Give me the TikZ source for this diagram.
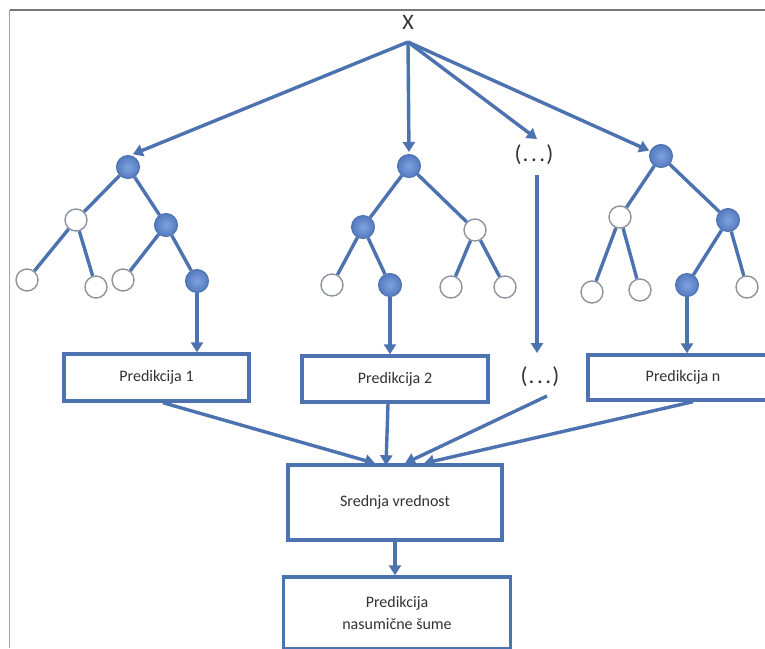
\documentclass[tikz,border=0pt]{standalone}
\usepackage{fontspec}
\setmainfont{Carlito}
\usetikzlibrary{arrows.meta}
\definecolor{lineblue}{RGB}{76,114,176}
\definecolor{fillin}{RGB}{128,163,222}
\definecolor{fillout}{RGB}{84,122,192}
\definecolor{circgray}{RGB}{140,148,160}
\definecolor{framegray}{RGB}{120,120,120}
\definecolor{txt}{RGB}{50,50,50}
\begin{document}
\begin{tikzpicture}[x=1pt,y=-1pt,
  fnode/.style={circle, minimum size=23pt, inner sep=0pt, inner color=fillin, outer color=fillout, draw=lineblue, line width=1pt},
  wnode/.style={circle, minimum size=22pt, inner sep=0pt, fill=white, draw=circgray, line width=1.4pt},
  treeedge/.style={draw=lineblue, line width=3.4pt},
  arr/.style={draw=lineblue, line width=3.4pt, -{Triangle[length=10pt,width=12pt]}},
  predbox/.style={draw=lineblue, line width=3.4pt, fill=white, inner sep=0pt, text=txt, font=\fontsize{16}{20}\selectfont, align=center},
  dotstext/.style={text=txt, font=\fontsize{23}{26}\selectfont, inner sep=0pt}
]
\useasboundingbox (0,0) rectangle (765,648);
\clip (0,0) rectangle (765,648);
\fill[white] (0,0) rectangle (765,648);
% frame
\draw[framegray!70, line width=1.5pt] (9.5,648) -- (9.5,10);
\draw[framegray, line width=1.8pt] (9.5,10) -- (765,10);

% input
\node[text=txt, font=\fontsize{22}{24}\selectfont, inner sep=0pt] (x) at (408,22) {X};
\coordinate (xs) at (408,42);

% tree 1
\node[fnode] (t1r) at (128,167) {};
\node[wnode] (t1a) at (76,220) {};
\node[fnode] (t1b) at (166,225) {};
\node[wnode] (t1aa) at (27,280) {};
\node[wnode] (t1ab) at (96,287) {};
\node[wnode] (t1ba) at (123,280) {};
\node[fnode] (t1bb) at (197,281) {};
\draw[treeedge] (t1r) -- (t1a) (t1r) -- (t1b) (t1a) -- (t1aa) (t1a) -- (t1ab) (t1b) -- (t1ba) (t1b) -- (t1bb);

% tree 2
\node[fnode] (t2r) at (409,166) {};
\node[fnode] (t2a) at (363,227) {};
\node[wnode] (t2b) at (475,230) {};
\node[wnode] (t2aa) at (332,285) {};
\node[fnode] (t2ab) at (390,285) {};
\node[wnode] (t2ba) at (451,287) {};
\node[wnode] (t2bb) at (505,287) {};
\draw[treeedge] (t2r) -- (t2a) (t2r) -- (t2b) (t2a) -- (t2aa) (t2a) -- (t2ab) (t2b) -- (t2ba) (t2b) -- (t2bb);

% tree n
\node[fnode] (tnr) at (661,156) {};
\node[wnode] (tna) at (620,217) {};
\node[fnode] (tnb) at (728,220) {};
\node[wnode] (tnaa) at (592,292) {};
\node[wnode] (tnab) at (640,290) {};
\node[fnode] (tnba) at (687,285) {};
\node[wnode] (tnbb) at (747,287) {};
\draw[treeedge] (tnr) -- (tna) (tnr) -- (tnb) (tna) -- (tnaa) (tna) -- (tnab) (tnb) -- (tnba) (tnb) -- (tnbb);

% dots
\node[dotstext] (d1) at (534,155) {(\kern1pt.\kern2.6pt.\kern2.6pt.\kern1pt)};
\node[dotstext] (d2) at (540,377) {(\kern1pt.\kern2.6pt.\kern2.6pt.\kern1pt)};
\coordinate (d1t) at (537,139);
\coordinate (d1b) at (537,175);
\coordinate (d2t) at (537,353);
\coordinate (d2b) at (547,396);

% boxes
\node[predbox, minimum width=185pt, minimum height=47pt] (p1) at (156.5,377.5) {Predikcija 1};
\node[predbox, minimum width=186pt, minimum height=46pt] (p2) at (395,379) {Predikcija 2};
\node[predbox, minimum width=190pt, minimum height=45pt] (pn) at (683,377.5) {Predikcija n};
\node[predbox, minimum width=214pt, minimum height=75pt] (sv) at (395,502.5) {Srednja vrednost};
\node[predbox, minimum width=227pt, minimum height=72pt] (fin) at (397,613) {Predikcija\\[2pt]nasumične šume};

% arrows from X
\draw[arr, shorten >=2pt] (xs) -- ([xshift=3pt]t1r.north);
\draw[arr, shorten >=2pt] (xs) -- (t2r.north);
\draw[arr] (xs) -- (d1t);
\draw[arr, shorten >=1pt] (xs) -- (tnr);

% leaves to predictions
\draw[arr] (t1bb) -- (t1bb |- p1.north);
\draw[arr] (t2ab) -- (t2ab |- p2.north);
\draw[arr] (d1b) -- (d2t);
\draw[arr] (tnba) -- (tnba |- pn.north);

% predictions to mean
\draw[arr] ([xshift=6.5pt]p1.south) -- ([xshift=-20pt]sv.north);
\draw[arr] ([xshift=-7pt]p2.south) -- ([xshift=-9pt,yshift=-2pt]sv.north);
\draw[arr] (d2b) -- ([xshift=10pt]sv.north);
\draw[arr] ([xshift=10pt]pn.south) -- ([xshift=29pt]sv.north);

% mean to final
\draw[arr] (sv.south) -- (sv.south |- fin.north);
\end{tikzpicture}
\end{document}
